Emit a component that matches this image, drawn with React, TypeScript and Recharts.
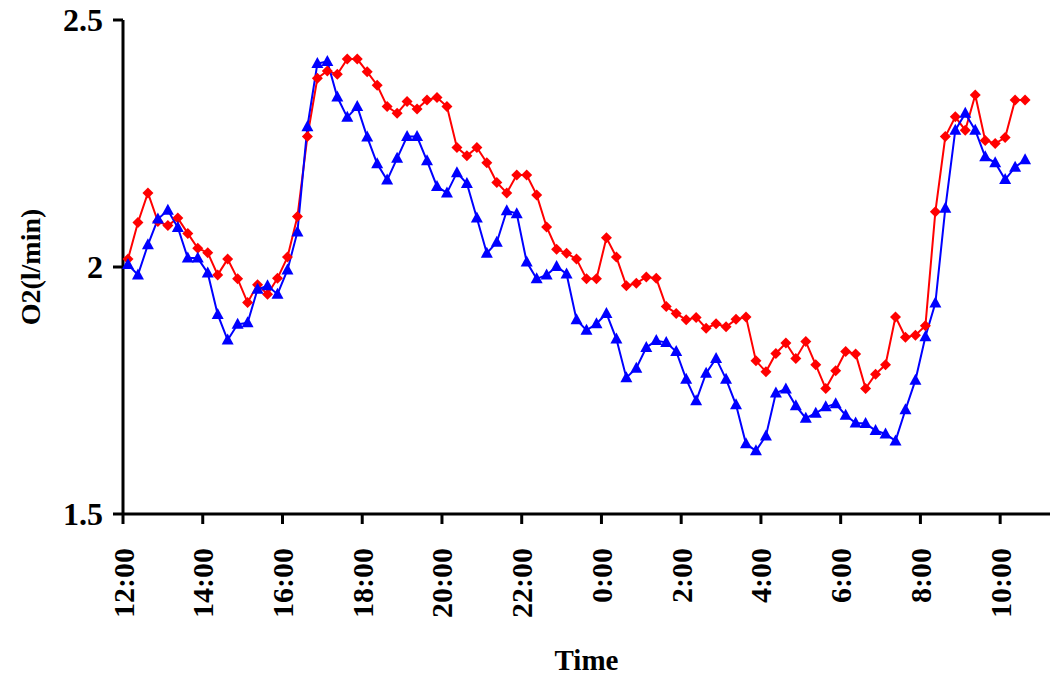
import { LineChart, Line, XAxis, YAxis } from "recharts";

// O2 uptake, one sample every 15 min starting just after 12:00
const RED_O2 = [
  2.016, 2.09, 2.15, 2.092, 2.084, 2.099, 2.068, 2.038, 2.029, 1.984,
  2.016, 1.976, 1.928, 1.964, 1.945, 1.977, 2.02, 2.102, 2.264, 2.382,
  2.397, 2.39, 2.421, 2.421, 2.395, 2.368, 2.325, 2.311, 2.335, 2.32,
  2.338, 2.343, 2.325, 2.242, 2.225, 2.242, 2.211, 2.171, 2.15, 2.186,
  2.186, 2.146, 2.081, 2.036, 2.028, 2.016, 1.976, 1.976, 2.059, 2.02,
  1.962, 1.967, 1.98, 1.977, 1.92, 1.906, 1.893, 1.898, 1.876, 1.885,
  1.879, 1.894, 1.899, 1.81, 1.788, 1.825, 1.846, 1.815, 1.849, 1.802,
  1.754, 1.79, 1.829, 1.824, 1.754, 1.783, 1.802, 1.899, 1.858, 1.862,
  1.881, 2.112, 2.264, 2.304, 2.277, 2.348, 2.256, 2.25, 2.262, 2.338,
  2.338,
];

const BLUE_O2 = [
  2.005, 1.984, 2.045, 2.097, 2.115, 2.08, 2.018, 2.018, 1.988, 1.904,
  1.852, 1.884, 1.887, 1.955, 1.962, 1.945, 1.994, 2.071, 2.284, 2.412,
  2.416, 2.344, 2.303, 2.325, 2.263, 2.209, 2.176, 2.22, 2.264, 2.264,
  2.215, 2.163, 2.15, 2.191, 2.169, 2.099, 2.028, 2.05, 2.114, 2.108,
  2.01, 1.976, 1.984, 2.001, 1.986, 1.893, 1.872, 1.885, 1.906, 1.854,
  1.776, 1.795, 1.837, 1.851, 1.847, 1.829, 1.773, 1.729, 1.785, 1.815,
  1.773, 1.721, 1.642, 1.628, 1.658, 1.745, 1.753, 1.719, 1.694, 1.704,
  1.717, 1.723, 1.7, 1.684, 1.683, 1.669, 1.662, 1.648, 1.711, 1.771,
  1.859, 1.927, 2.119, 2.277, 2.311, 2.277, 2.223, 2.211, 2.177, 2.202,
  2.217,
];

// tick marks sit between samples, every 8 samples (2 h)
const TIME_TICKS = [-0.5, 7.5, 15.5, 23.5, 31.5, 39.5, 47.5, 55.5, 63.5, 71.5, 79.5, 87.5];
const TIME_LABELS = [
  "12:00", "14:00", "16:00", "18:00", "20:00", "22:00",
  "0:00", "2:00", "4:00", "6:00", "8:00", "10:00",
];
const O2_TICKS = [1.5, 2, 2.5];

const data = RED_O2.map((v, i) => ({ idx: i, red: v, blue: BLUE_O2[i] }));

const FONT = "'Liberation Serif', 'Times New Roman', serif";

function Diamond(props: any) {
  const { cx, cy } = props;
  if (cx == null || cy == null) return null;
  const r = 5.5;
  return (
    <path
      key={`d-${props.index}`}
      d={`M${cx},${cy - r}L${cx + r},${cy}L${cx},${cy + r}L${cx - r},${cy}Z`}
      fill="#ff0000"
    />
  );
}

function Triangle(props: any) {
  const { cx, cy } = props;
  if (cx == null || cy == null) return null;
  return (
    <path
      key={`t-${props.index}`}
      d={`M${cx},${cy - 6.5}L${cx + 6},${cy + 4.5}L${cx - 6},${cy + 4.5}Z`}
      fill="#0000ff"
    />
  );
}

function TimeTick(props: any) {
  const { x, y, payload } = props;
  const i = TIME_TICKS.indexOf(payload.value);
  return (
    <text
      x={x}
      y={y}
      transform={`rotate(-90, ${x}, ${y})`}
      textAnchor="end"
      dy="0.35em"
      fontFamily={FONT}
      fontWeight="bold"
      fontSize={30}
      fill="#000"
    >
      {TIME_LABELS[i]}
    </text>
  );
}

function YTitle(props: any) {
  const { viewBox } = props;
  const cy = viewBox.y + viewBox.height / 2;
  const cx = 30;
  return (
    <text
      x={cx}
      y={cy}
      transform={`rotate(-90, ${cx}, ${cy})`}
      textAnchor="middle"
      dy="0.35em"
      fontFamily={FONT}
      fontWeight="bold"
      fontSize={28}
      fill="#000"
    >
      O2(l/min)
    </text>
  );
}

export default function App() {
  return (
    <div style={{ position: "absolute", left: 0, top: 0, background: "#fff" }}>
      <LineChart
        width={1052}
        height={675}
        data={data}
        margin={{ top: 20, right: 2, bottom: 0, left: 0 }}
      >
        <XAxis
          dataKey="idx"
          type="number"
          domain={[-0.5, 92.5]}
          ticks={TIME_TICKS}
          interval={0}
          tick={<TimeTick />}
          tickSize={10}
          tickMargin={24}
          height={161}
          stroke="#000"
          strokeWidth={3}
          label={{
            value: "Time",
            position: "insideBottom",
            offset: 5,
            fontFamily: FONT,
            fontWeight: "bold",
            fontSize: 29,
            fill: "#000",
          }}
        />
        <YAxis
          type="number"
          domain={[1.5, 2.5]}
          ticks={O2_TICKS}
          interval={0}
          width={123}
          tickSize={10}
          tickMargin={10}
          stroke="#000"
          strokeWidth={3}
          tick={{ fontFamily: FONT, fontWeight: "bold", fontSize: 32, fill: "#000" }}
          label={<YTitle />}
        />
        <Line
          dataKey="red"
          stroke="#ff0000"
          strokeWidth={2}
          dot={<Diamond />}
          activeDot={false}
          isAnimationActive={false}
        />
        <Line
          dataKey="blue"
          stroke="#0000ff"
          strokeWidth={2}
          dot={<Triangle />}
          activeDot={false}
          isAnimationActive={false}
        />
      </LineChart>
    </div>
  );
}
